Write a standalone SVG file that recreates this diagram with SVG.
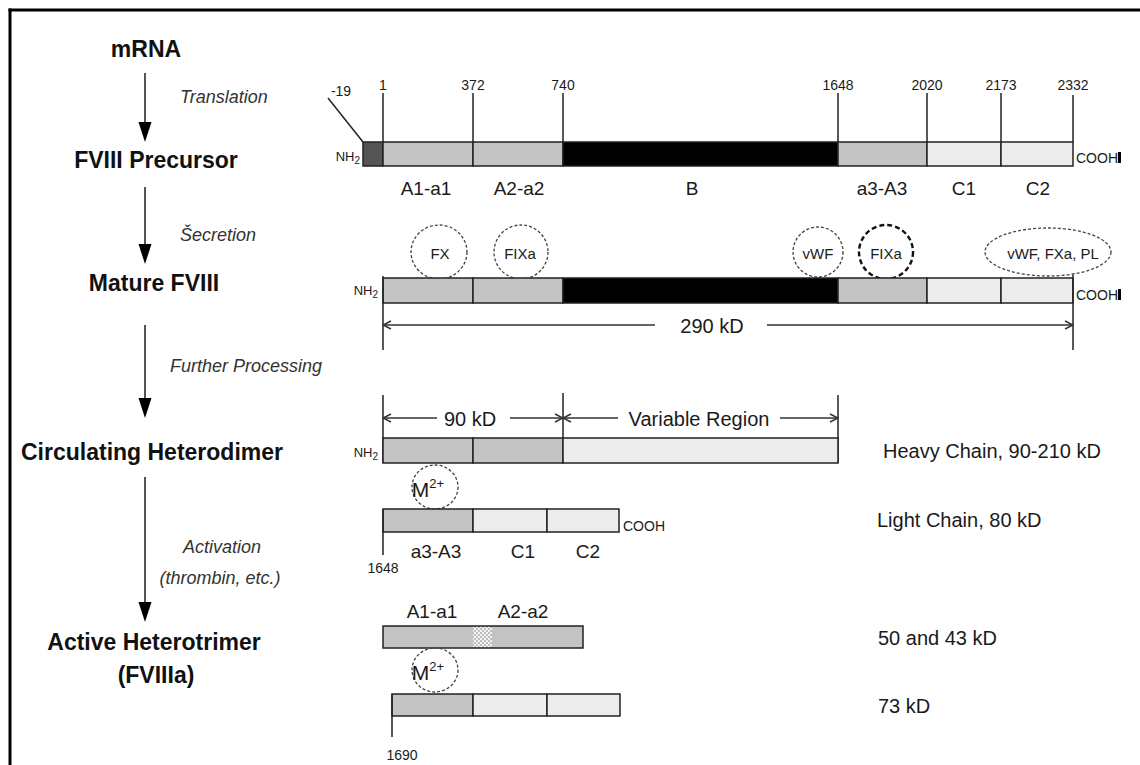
<svg xmlns="http://www.w3.org/2000/svg" width="1140" height="765" viewBox="0 0 1140 765">
<defs>
<style>
text{font-family:"Liberation Sans",Arial,sans-serif;fill:#1a1a1a}
.main{font-weight:bold;font-size:23px;text-anchor:middle;fill:#111}
.step{font-style:italic;font-size:18px;fill:#333}
.dom{font-size:19px;text-anchor:middle}
.num{font-size:14px;text-anchor:middle}
.sm{font-size:13px}
.cooh{font-size:14px}
.lbl{font-size:20px}
.dim{font-size:20px;text-anchor:middle}
.cl{font-size:15px;text-anchor:middle}
.bar{stroke:#222;stroke-width:1.5}
.a{fill:#c3c3c3}
.c{fill:#ececec}
.b{fill:#000}
.sp{fill:#555}
.ln{stroke:#222;stroke-width:1.5;fill:none}
.bind{fill:none;stroke:#444;stroke-width:1.3;stroke-dasharray:3 2}
.bindk{fill:none;stroke:#111;stroke-width:2.4;stroke-dasharray:5 3}
.shaft{stroke:#555;stroke-width:2}
.head{fill:#000}
.dl{stroke:#333;stroke-width:1.5;fill:none}
</style>
<marker id="oa" viewBox="0 0 10 10" refX="9" refY="5" markerWidth="10" markerHeight="10" orient="auto-start-reverse" markerUnits="userSpaceOnUse">
<path d="M1,1 L9,5 L1,9" fill="none" stroke="#333" stroke-width="1.5"/>
</marker>
<pattern id="dots" width="4" height="4" patternUnits="userSpaceOnUse">
<rect width="4" height="4" fill="#f4f4f4"/>
<circle cx="1" cy="1" r="0.8" fill="#777"/>
<circle cx="3" cy="3" r="0.8" fill="#777"/>
</pattern>
</defs>
<rect width="1140" height="765" fill="#fff"/>
<g id="frame">
<line x1="8.5" y1="10" x2="1140" y2="10" stroke="#000" stroke-width="3"/>
<line x1="10" y1="8.5" x2="10" y2="765" stroke="#000" stroke-width="3"/>
</g>

<g id="connectors">
<line class="shaft" x1="145" y1="73" x2="145" y2="124"/>
<polygon class="head" points="138.5,122 151.5,122 145,142"/>
<line class="shaft" x1="145" y1="187" x2="145" y2="246"/>
<polygon class="head" points="138.5,244 151.5,244 145,264"/>
<line class="shaft" x1="145" y1="325" x2="145" y2="400"/>
<polygon class="head" points="138.5,398 151.5,398 145,418"/>
<line class="shaft" x1="145" y1="477" x2="145" y2="604"/>
<polygon class="head" points="138.5,602 151.5,602 145,622"/>
<text class="step" x="180" y="103">Translation</text>
<text class="step" x="180" y="241">Šecretion</text>
<text class="step" x="170" y="372">Further Processing</text>
<text class="step" x="222" y="553" text-anchor="middle">Activation</text>
<text class="step" x="220" y="584" text-anchor="middle">(thrombin, etc.)</text>
</g>

<g id="stage-mrna"><text class="main" x="146" y="57">mRNA</text></g>
<g id="stage-precursor-label"><text class="main" x="156" y="168">FVIII Precursor</text></g>
<g id="stage-mature-label"><text class="main" x="154" y="291">Mature FVIII</text></g>
<g id="stage-heterodimer-label"><text class="main" x="152" y="460">Circulating Heterodimer</text></g>
<g id="stage-heterotrimer-label"><text class="main" x="154" y="650">Active Heterotrimer</text><text class="main" x="156" y="683">(FVIIIa)</text></g>

<g id="precursor">
<line class="ln" x1="383" y1="93" x2="383" y2="142"/>
<line class="ln" x1="473" y1="93" x2="473" y2="142"/>
<line class="ln" x1="563" y1="93" x2="563" y2="142"/>
<line class="ln" x1="838" y1="93" x2="838" y2="142"/>
<line class="ln" x1="927" y1="93" x2="927" y2="142"/>
<line class="ln" x1="1001" y1="93" x2="1001" y2="142"/>
<line class="ln" x1="1073" y1="95" x2="1073" y2="142"/>
<polyline class="ln" points="328,98 363,142"/>
<rect class="bar sp" x="363" y="142" width="20" height="24"/>
<rect class="bar a" x="383" y="142" width="90" height="24"/>
<rect class="bar a" x="473" y="142" width="90" height="24"/>
<rect class="bar b" x="563" y="142" width="275" height="24"/>
<rect class="bar a" x="838" y="142" width="89" height="24"/>
<rect class="bar c" x="927" y="142" width="74" height="24"/>
<rect class="bar c" x="1001" y="142" width="72" height="24"/>
<text class="num" x="341" y="96">-19</text>
<text class="num" x="383" y="90">1</text>
<text class="num" x="473" y="90">372</text>
<text class="num" x="563" y="90">740</text>
<text class="num" x="838" y="90">1648</text>
<text class="num" x="927" y="90">2020</text>
<text class="num" x="1001" y="90">2173</text>
<text class="num" x="1073" y="90">2332</text>
<text class="sm" x="360" y="161" text-anchor="end">NH<tspan font-size="10" dy="3">2</tspan></text>
<text class="cooh" x="1076" y="163">COOH</text>
<rect x="1118" y="152" width="3" height="11" fill="#000"/>
<text class="dom" x="426" y="195">A1-a1</text>
<text class="dom" x="519" y="195">A2-a2</text>
<text class="dom" x="692" y="195">B</text>
<text class="dom" x="882" y="195">a3-A3</text>
<text class="dom" x="964" y="195">C1</text>
<text class="dom" x="1038" y="195">C2</text>
</g>

<g id="mature">
<ellipse class="bind" cx="439" cy="252" rx="28" ry="27"/>
<ellipse class="bind" cx="521" cy="252" rx="27" ry="27"/>
<ellipse class="bind" cx="818" cy="252" rx="25" ry="25"/>
<ellipse class="bindk" cx="886" cy="252" rx="27" ry="27"/>
<ellipse class="bind" cx="1048" cy="252" rx="63" ry="24"/>
<text class="cl" x="440" y="259">FX</text>
<text class="cl" x="520" y="259">FIXa</text>
<text class="cl" x="818" y="259">vWF</text>
<text class="cl" x="886" y="259">FIXa</text>
<text class="cl" x="1053" y="259">vWF, FXa, PL</text>
<rect class="bar a" x="383" y="278" width="90" height="25"/>
<rect class="bar a" x="473" y="278" width="90" height="25"/>
<rect class="bar b" x="563" y="278" width="275" height="25"/>
<rect class="bar a" x="838" y="278" width="89" height="25"/>
<rect class="bar c" x="927" y="278" width="74" height="25"/>
<rect class="bar c" x="1001" y="278" width="72" height="25"/>
<line class="ln" x1="383" y1="276" x2="383" y2="350"/>
<line class="ln" x1="1073" y1="275" x2="1073" y2="350"/>
<text class="sm" x="378" y="295" text-anchor="end">NH<tspan font-size="10" dy="3">2</tspan></text>
<text class="cooh" x="1076" y="300">COOH</text>
<rect x="1118" y="289" width="3" height="11" fill="#000"/>
<line class="dl" x1="383" y1="325" x2="655" y2="325" marker-start="url(#oa)"/>
<line class="dl" x1="767" y1="325" x2="1073" y2="325" marker-end="url(#oa)"/>
<text class="dim" x="712" y="333">290 kD</text>
</g>

<g id="heavy-chain">
<line class="ln" x1="383" y1="395" x2="383" y2="463"/>
<line class="ln" x1="563" y1="393" x2="563" y2="438"/>
<line class="ln" x1="838" y1="395" x2="838" y2="463"/>
<line class="dl" x1="383" y1="418" x2="437" y2="418" marker-start="url(#oa)"/>
<line class="dl" x1="510" y1="418" x2="563" y2="418" marker-end="url(#oa)"/>
<line class="dl" x1="563" y1="418" x2="618" y2="418" marker-start="url(#oa)"/>
<line class="dl" x1="780" y1="418" x2="838" y2="418" marker-end="url(#oa)"/>
<text class="dim" x="470" y="426">90 kD</text>
<text class="dim" x="699" y="426">Variable Region</text>
<rect class="bar a" x="383" y="438" width="90" height="25"/>
<rect class="bar a" x="473" y="438" width="90" height="25"/>
<rect class="bar c" x="563" y="438" width="275" height="25"/>
<text class="sm" x="378" y="457" text-anchor="end">NH<tspan font-size="10" dy="3">2</tspan></text>
<text class="lbl" x="883" y="458">Heavy Chain, 90-210 kD</text>
</g>

<g id="metal-ion-1">
<ellipse class="bind" cx="435" cy="487" rx="23" ry="22"/>
<text x="428" y="497" font-size="21" text-anchor="middle">M<tspan font-size="13" dy="-9">2+</tspan></text>
</g>

<g id="light-chain">
<rect class="bar a" x="383" y="509" width="90" height="23"/>
<rect class="bar c" x="473" y="509" width="74" height="23"/>
<rect class="bar c" x="547" y="509" width="72" height="23"/>
<line class="ln" x1="383" y1="509" x2="383" y2="555"/>
<text class="cooh" x="623" y="531">COOH</text>
<text class="dom" x="436" y="558">a3-A3</text>
<text class="dom" x="523" y="558">C1</text>
<text class="dom" x="588" y="558">C2</text>
<text class="num" x="383" y="573">1648</text>
<text class="lbl" x="877" y="527">Light Chain, 80 kD</text>
</g>

<g id="heterotrimer-a1a2">
<text class="dom" x="432" y="618">A1-a1</text>
<text class="dom" x="523" y="618">A2-a2</text>
<rect class="a" x="383" y="626" width="90" height="22"/>
<rect fill="url(#dots)" x="473" y="626" width="19" height="22"/>
<rect class="a" x="492" y="626" width="91" height="22"/>
<rect x="383" y="626" width="200" height="22" fill="none" stroke="#222" stroke-width="1.5"/>
<text class="lbl" x="878" y="645">50 and 43 kD</text>
</g>

<g id="metal-ion-2">
<ellipse class="bind" cx="435" cy="670" rx="23" ry="22"/>
<text x="428" y="680" font-size="21" text-anchor="middle">M<tspan font-size="13" dy="-9">2+</tspan></text>
</g>

<g id="heterotrimer-a3c1c2">
<rect class="bar a" x="392" y="694" width="81" height="22"/>
<rect class="bar c" x="473" y="694" width="74" height="22"/>
<rect class="bar c" x="547" y="694" width="73" height="22"/>
<line class="ln" x1="392" y1="694" x2="392" y2="737"/>
<text class="num" x="402" y="760">1690</text>
<text class="lbl" x="878" y="713">73 kD</text>
</g>
</svg>
